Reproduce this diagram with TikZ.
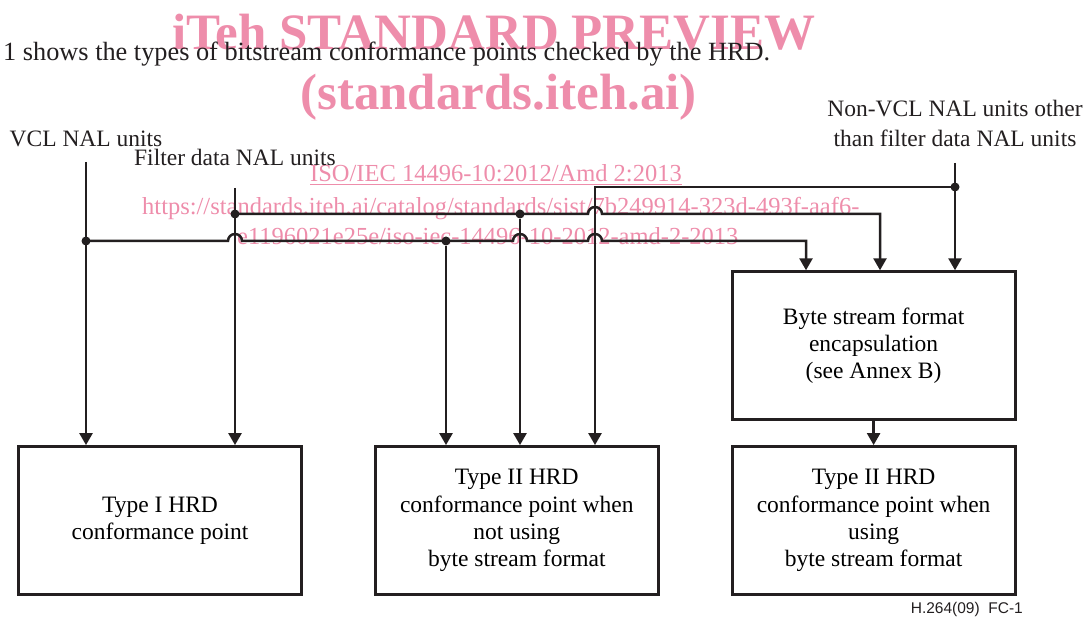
\documentclass[tikz,border=0pt]{standalone}
\usepackage{fontspec}
\setmainfont{Liberation Serif}
\newfontfamily\tagsans{Liberation Sans}
\usepackage{tikz}
\usetikzlibrary{arrows.meta, positioning, calc}
\definecolor{LineInk}{HTML}{231F20}
\definecolor{MarkPink}{HTML}{EE8DAB}
\newcommand{\hopover}[2]{-- (#1-7,#2) arc[start angle=180, end angle=0, radius=7pt]}

\begin{document}
\begin{tikzpicture}[x=1pt, y=1pt,
    hrdbox/.style={draw=LineInk, line width=2.8pt, minimum width=283pt, minimum height=148pt,
                   inner sep=0pt, align=center, font=\fontsize{23.5}{27.3}\selectfont},
    inlabel/.style={text=LineInk, inner sep=0pt, align=center, font=\fontsize{23.5}{30}\selectfont},
    flow/.style={draw=LineInk, line width=2.5pt, -{Triangle[length=12pt, width=13pt]}},
    junction/.style={circle, fill=LineInk, inner sep=0pt, minimum size=9pt},
    stamp/.style={text=MarkPink, inner sep=0pt, anchor=base west}]
    \useasboundingbox (0,0) rectangle (1091,617);

    % watermark and running text
    \node[stamp, font=\fontsize{51}{55}\selectfont\bfseries] (wmtitle) at (172,567) {iTeh STANDARD PREVIEW};
    \node[stamp, font=\fontsize{51}{55}\selectfont\bfseries] (wmsite) at (300,507) {(standards.iteh.ai)};
    \node[stamp, font=\fontsize{24.5}{28}\selectfont] (wmiso) at (310,435) {\underline{ISO/IEC 14496-10:2012/Amd 2:2013}};
    \node[stamp, font=\fontsize{24.5}{28}\selectfont] (wmurl) at (142,402) {https://standards.iteh.ai/catalog/standards/sist/7b249914-323d-493f-aaf6-};
    \node[stamp, font=\fontsize{24.5}{28}\selectfont] (wmurltail) at (237,372) {e1196021e25e/iso-iec-14496-10-2012-amd-2-2013};
    \node[inlabel, anchor=base west, font=\fontsize{26.3}{30}\selectfont] (intro) at (3,556) {1 shows the types of bitstream conformance points checked by the HRD.};

    % boxes
    \node[hrdbox] (typeI) at (160,96.5) {Type I HRD\\conformance point};
    \node[hrdbox, right=71pt of typeI] (typeIInot) {Type II HRD\\conformance point when\\not using\\byte stream format};
    \node[hrdbox, right=71pt of typeIInot] (typeIIuse) {Type II HRD\\conformance point when\\using\\byte stream format};
    \node[hrdbox, above=24pt of typeIIuse] (encap) {Byte stream format\\encapsulation\\(see Annex B)};

    % inputs
    \node[inlabel, anchor=base] (vcl) at (86,470) {VCL NAL units};
    \node[inlabel, anchor=base] (filt) at (235,451) {Filter data NAL units};
    \node[inlabel, anchor=base] (nonvcl) at (955,470) {Non-VCL NAL units other\\than filter data NAL units};
    \coordinate (vcltop) at ($(vcl.base)+(0,-15)$);
    \coordinate (filttop) at ($(filt.base)+(0,-22)$);
    \coordinate (nvtop) at (955,454);

    \node[junction] (vclsplit) at (86,376) {};
    \node[junction] (filtsplit) at (235,403) {};
    \node[junction] (nvsplit) at (955,430) {};
    \node[junction] (filtbranch) at (520,403) {};
    \node[junction] (vclbranch) at (446,376) {};

    \draw[flow] (vcltop) -- (vcltop |- typeI.north);
    \draw[flow] (filttop) -- (filttop |- typeI.north);
    \draw[flow] (nvtop) -- (nvtop |- encap.north);
    \draw[flow] (encap) -- (typeIIuse);

    % buses with hops
    \draw[flow] (filtsplit.center) \hopover{595}{403} -- (880,403) -- (880,403 |- encap.north);
    \draw[flow] (vclsplit.center) \hopover{235}{376} \hopover{520}{376} \hopover{595}{376}
        -- (806,376) -- (806,376 |- encap.north);
    \draw[flow] (nvsplit.center) -- (595,430) -- (595,430 |- typeIInot.north);
    \draw[flow] (filtbranch) -- (filtbranch |- typeIInot.north);
    \draw[flow] (vclbranch) -- (vclbranch |- typeIInot.north);

    \node[text=LineInk, inner sep=0pt, anchor=base east, font=\tagsans\fontsize{15.5}{18}\selectfont] (figtag) at (1023,3) {H.264(09)\ \ FC-1};
\end{tikzpicture}
\end{document}
